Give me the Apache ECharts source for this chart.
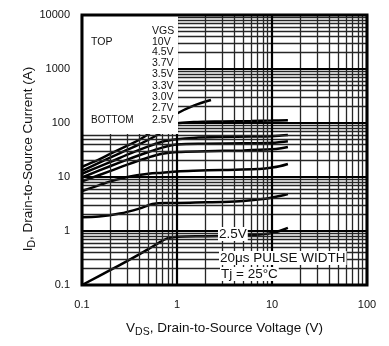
<!DOCTYPE html>
<html><head><meta charset="utf-8">
<script src="https://cdn.jsdelivr.net/npm/echarts@6/dist/echarts.min.js"></script>
<style>html,body{margin:0;padding:0;background:#fff}#c{width:389px;height:346px}</style>
</head><body><div id="c"></div>
<script>
// ---- data ----
const vgsLabels = ['10V','4.5V','3.7V','3.5V','3.3V','3.0V','2.7V','2.5V'];
const vds_10V  = [0.1, 0.15, 0.2, 0.3, 0.41, 0.6, 0.8, 1.0, 1.5, 2.28];
const id_10V   = [15.5, 21, 27, 38, 50, 78, 112, 150, 210, 267];
const vds_4V5  = [0.1, 0.2, 0.3, 0.4, 0.6, 0.8, 1.0, 1.5, 3, 6, 10, 14.7];
const id_4V5   = [13, 23, 32, 40, 58, 80, 98, 104, 107, 109, 111, 113];
const vds_3V7  = [0.1, 0.2, 0.3, 0.5, 0.7, 1.0, 1.5, 3, 6, 10, 12.5, 14.7];
const id_3V7   = [11.5, 19, 26, 37, 45, 50, 53, 55, 56, 57, 58.5, 60];
const vds_3V5  = [0.1, 0.2, 0.3, 0.5, 0.7, 1.0, 2, 5, 10, 12.5, 14.7];
const id_3V5   = [9.8, 16, 21, 29, 35, 40, 41.5, 42, 43, 44.5, 46];
const vds_3V3  = [0.1, 0.2, 0.3, 0.5, 0.7, 1.0, 2, 5, 10, 12.5, 14.7];
const id_3V3   = [8.3, 13, 17, 23, 27, 29, 30, 31, 32.5, 34, 36];
const vds_3V0  = [0.1, 0.15, 0.2, 0.3, 0.5, 0.7, 1.0, 1.5, 3, 7, 10, 12, 14.7];
const id_3V0   = [5.5, 7, 8.3, 10, 11.5, 12, 12.6, 13, 13.5, 14, 15, 15.8, 17.4];
const vds_2V7  = [0.1, 0.15, 0.25, 0.4, 0.55, 0.75, 1, 2, 3, 5, 8, 11, 14.7];
const id_2V7   = [1.8, 1.85, 2.1, 2.6, 3.15, 3.3, 3.3, 3.4, 3.45, 3.6, 3.9, 4.3, 4.84];
const vds_2V5  = [0.1, 0.2, 0.4, 0.6, 0.8, 1, 2, 4, 6, 8, 10, 12, 14.7];
const id_2V5   = [0.1, 0.19, 0.37, 0.56, 0.74, 0.78, 0.8, 0.82, 0.84, 0.87, 0.92, 1.0, 1.14];
const xTickLabels = ['0.1','1','10','100'];
const yTickLabels = ['0.1','1','10','100','1000','10000'];
const xTitle = ['V','DS',', Drain-to-Source Voltage (V)'];
const yTitle = ['I','D',', Drain-to-Source Current (A)'];
const notes = ['2.5V','20\u03bcs PULSE WIDTH','Tj = 25\u00b0C'];

const curves = [
  [vds_10V, id_10V],[vds_4V5, id_4V5],[vds_3V7, id_3V7],[vds_3V5, id_3V5],
  [vds_3V3, id_3V3],[vds_3V0, id_3V0],[vds_2V7, id_2V7],[vds_2V5, id_2V5]
];

const FONT = "'Liberation Sans', Arial, Helvetica, sans-serif";
const G = {left:82, top:15, width:285, height:270};

// grid lines (log decades and minor 2..9)
const majorX = [0.1,1,10,100], majorY = [0.1,1,10,100,1000,10000];
const minorX = [], minorY = [];
[0.1,1,10].forEach(d=>{for(let k=2;k<=9;k++) minorX.push(+(d*k).toPrecision(3));});
[0.1,1,10,100,1000].forEach(d=>{for(let k=2;k<=9;k++) minorY.push(+(d*k).toPrecision(3));});

const series = [];
series.push({
  type:'line', data:[], z:1, silent:true, animation:false,
  markLine:{silent:true, animation:false, symbol:['none','none'], label:{show:false},
    lineStyle:{color:'#262626', width:1.3, type:'solid'},
    emphasis:{disabled:true},
    data: minorX.map(v=>({xAxis:v})).concat(minorY.map(v=>({yAxis:v})))}
});
series.push({
  type:'line', data:[], z:1, silent:true, animation:false,
  markLine:{silent:true, animation:false, symbol:['none','none'], label:{show:false},
    lineStyle:{color:'#000', width:2.2, type:'solid'},
    emphasis:{disabled:true},
    data: majorX.map(v=>({xAxis:v})).concat(majorY.map(v=>({yAxis:v})))}
});
curves.forEach((c,i)=>{
  series.push({
    name: vgsLabels[i], type:'line', smooth:0.35, showSymbol:false, symbol:'none', z:3,
    animation:false, silent:true,
    lineStyle:{color:'#000', width:2.5},
    data: c[0].map((x,j)=>[x, c[1][j]])
  });
});

const richTitle = {
  n:{fontSize:13.5, fontFamily:FONT, fill:'#111'},
  s:{fontSize:10.5, fontFamily:FONT, fill:'#111', padding:[8,0,0,0]}
};

const legendGraphics = [];
legendGraphics.push({type:'rect', shape:{x:G.left, y:G.top, width:96, height:119}, style:{fill:'#fff'}, z:50});
legendGraphics.push({type:'text', x:152, y:31, z:51, style:{text:'VGS', font:'10.5px '+FONT, fill:'#111', verticalAlign:'middle'}});
legendGraphics.push({type:'text', x:91, y:42, z:51, style:{text:'TOP', font:'10.5px '+FONT, fill:'#111', verticalAlign:'middle'}});
legendGraphics.push({type:'text', x:91, y:120, z:51, style:{text:'BOTTOM', font:'10px '+FONT, fill:'#111', verticalAlign:'middle'}});
const legendY = [42,52.5,63.5,74.5,86,97,108,120];
vgsLabels.forEach((t,i)=>{
  legendGraphics.push({type:'text', x:152, y:legendY[i], z:51, style:{text:t, font:'10.5px '+FONT, fill:'#111', verticalAlign:'middle'}});
});
const noteXY = [[218,234],[219,258],[220,274]];
notes.forEach((t,i)=>{
  legendGraphics.push({type:'text', x:noteXY[i][0], y:noteXY[i][1], z:51,
    style:{text:t, font:'13.5px '+FONT, fill:'#111', verticalAlign:'middle', backgroundColor:'#fff', padding:[0,1,0,1]}});
});
legendGraphics.push({type:'rect', shape:{x:G.left, y:G.top, width:G.width, height:G.height},
  style:{fill:'none', stroke:'#000', lineWidth:3}, z:60});
// y-axis title (rotated)
legendGraphics.push({type:'text', x:28, y:159, rotation:Math.PI/2, z:51,
  style:{text:'{n|'+yTitle[0]+'}{s|'+yTitle[1]+'}{n|'+yTitle[2]+'}', align:'center', verticalAlign:'middle', rich:richTitle}});

const chart = echarts.init(document.getElementById('c'), null, {renderer:'canvas'});
chart.setOption({
  backgroundColor:'#fff',
  animation:false,
  grid:{left:G.left, top:G.top, width:G.width, height:G.height, containLabel:false},
  xAxis:{
    type:'log', logBase:10, min:0.1, max:100,
    axisLine:{show:false}, axisTick:{show:false}, splitLine:{show:false}, minorSplitLine:{show:false},
    axisLabel:{margin:14, color:'#111', fontSize:11, fontFamily:FONT,
      formatter:v=>xTickLabels[Math.round(Math.log10(v))+1] ?? ''},
    name: '{n|'+xTitle[0]+'}{s|'+xTitle[1]+'}{n|'+xTitle[2]+'}',
    nameLocation:'middle', nameGap:34,
    nameTextStyle:{rich:{
      n:{fontSize:13.5, fontFamily:FONT, color:'#111'},
      s:{fontSize:10.5, fontFamily:FONT, color:'#111', padding:[8,0,0,0]}
    }}
  },
  yAxis:{
    type:'log', logBase:10, min:0.1, max:10000,
    axisLine:{show:false}, axisTick:{show:false}, splitLine:{show:false}, minorSplitLine:{show:false},
    axisLabel:{margin:12, color:'#111', fontSize:11, fontFamily:FONT,
      formatter:v=>yTickLabels[Math.round(Math.log10(v))+1] ?? ''}
  },
  series: series,
  graphic: legendGraphics
});
</script></body></html>
